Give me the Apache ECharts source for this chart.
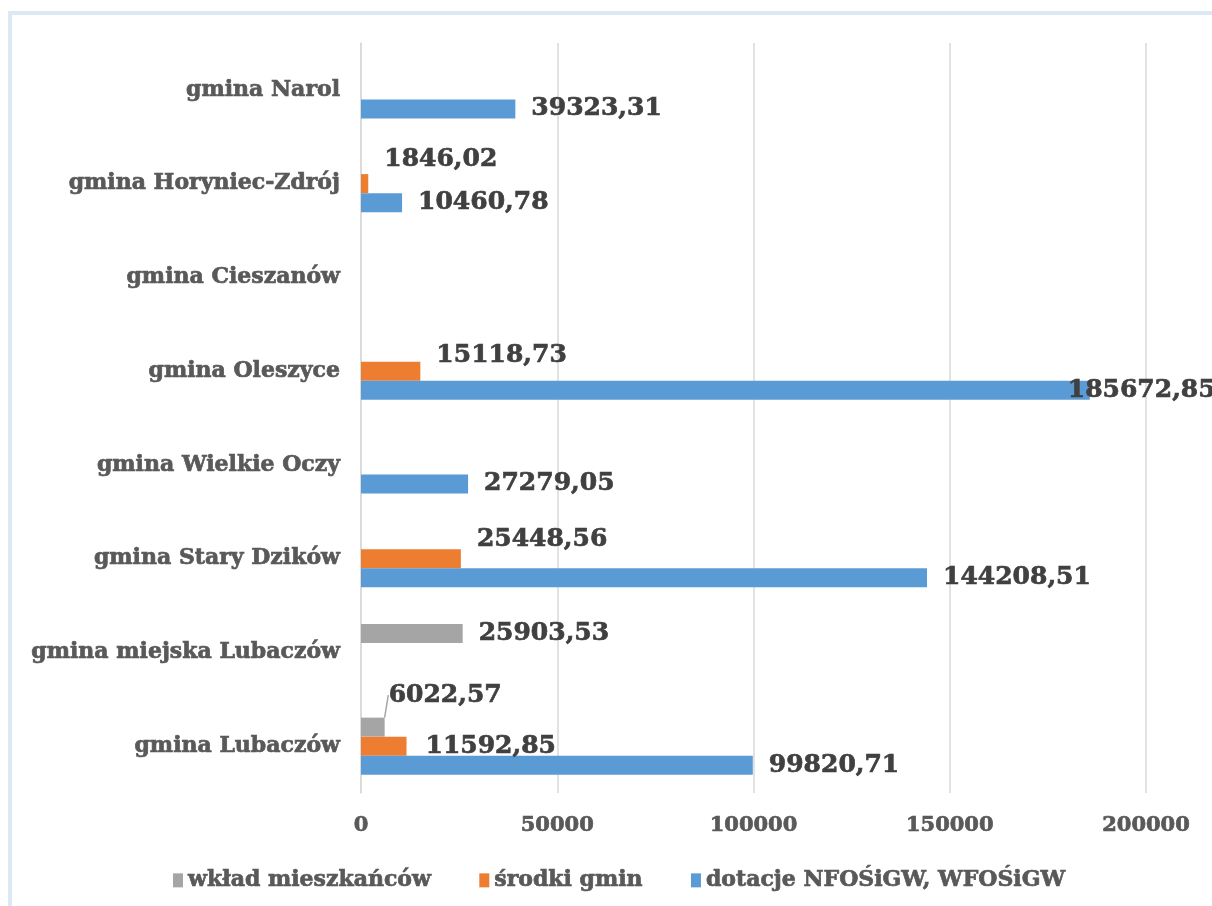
<!DOCTYPE html>
<html>
<head>
<meta charset="utf-8">
<script src="https://cdn.jsdelivr.net/npm/echarts@6/dist/echarts.min.js"></script>
<style>
  html, body { margin: 0; padding: 0; background: #fff; }
  #chart { width: 1212px; height: 906px; }
</style>
</head>
<body>
<div id="chart"></div>
<script>
// categories, bottom to top
var gminy = ['gmina Lubaczów', 'gmina miejska Lubaczów', 'gmina Stary Dzików', 'gmina Wielkie Oczy',
             'gmina Oleszyce', 'gmina Cieszanów', 'gmina Horyniec-Zdrój', 'gmina Narol'];
var seriesNames = ['wkład mieszkańców', 'środki gmin', 'dotacje NFOŚiGW, WFOŚiGW'];
var wkladMieszkancow = [6022.57, 25903.53, null, null, null, null, null, null];
var srodkiGmin = [11592.85, null, 25448.56, null, 15118.73, null, 1846.02, null];
var dotacje = [99820.71, null, 144208.51, 27279.05, 185672.85, null, 10460.78, 39323.31];
var xTicks = [0, 50000, 100000, 150000, 200000];

// label nudges (like the moved labels in the original)
var shiftGray = { 0: [-12, -32] };
var shiftOrange = { 0: [3, 0], 2: [0, -19], 4: [0, -16], 6: [0, -24] };
var shiftBlue = { 4: [-38, 0] };
var leaderLine = { 0: true };   // only the gray Lubaczów label gets a leader line

var colors = ['#a5a5a5', '#ed7d31', '#5b9bd5'];
var serif = '"DejaVu Serif", "Liberation Serif", serif';

function fmt(v) {
  return v.toFixed(2).replace('.', ',');
}

// heavier text, closer to the bold face of the original
function heavy(size, color) {
  return {
    fontFamily: serif, fontWeight: 'bold', fontSize: size, color: color,
    textBorderColor: color, textBorderWidth: 0.7
  };
}

function makeSeries(idx, values, shifts) {
  return {
    name: seriesNames[idx],
    type: 'bar',
    data: values.map(function (v, i) {
      return { value: v, labelLine: { show: idx === 0 && !!leaderLine[i] } };
    }),
    barWidth: 19,
    barGap: '0%',
    itemStyle: { color: colors[idx] },
    label: Object.assign({
      show: true,
      position: 'right',
      distance: 16,
      formatter: function (p) { return p.value == null ? '' : fmt(p.value); }
    }, heavy(25, '#404040')),
    labelLine: { show: false, lineStyle: { color: '#a6a6a6', width: 1.5 } },
    labelLayout: function (p) {
      var s = shifts[p.dataIndex];
      return s ? { dx: s[0], dy: s[1] } : {};
    }
  };
}

var chart = echarts.init(document.getElementById('chart'));
chart.setOption({
  animation: false,
  graphic: [{
    type: 'rect',
    shape: { x: 10, y: 13, width: 1400, height: 1100 },
    style: { fill: 'none', stroke: '#dde8f5', lineWidth: 4 },
    silent: true
  }],
  legend: {
    data: seriesNames,
    top: 864,
    left: 168,
    icon: 'rect',
    itemWidth: 10,
    itemHeight: 14,
    itemGap: 48,
    textStyle: heavy(22, '#595959')
  },
  grid: { left: 361, right: 66, top: 43, bottom: 113 },
  xAxis: {
    type: 'value',
    min: xTicks[0],
    max: xTicks[xTicks.length - 1],
    interval: xTicks[1] - xTicks[0],
    axisLine: { show: false },
    axisTick: { show: false },
    splitLine: { lineStyle: { color: '#d9d9d9', width: 1.5 } },
    axisLabel: Object.assign({ margin: 22, formatter: function (v) { return String(v); } }, heavy(21, '#595959'))
  },
  yAxis: {
    type: 'category',
    data: gminy,
    axisLine: { lineStyle: { color: '#d9d9d9', width: 1.5 } },
    axisTick: { show: false },
    axisLabel: Object.assign({ margin: 21 }, heavy(22, '#595959'))
  },
  series: [
    makeSeries(0, wkladMieszkancow, shiftGray),
    makeSeries(1, srodkiGmin, shiftOrange),
    makeSeries(2, dotacje, shiftBlue)
  ]
});
</script>
</body>
</html>
